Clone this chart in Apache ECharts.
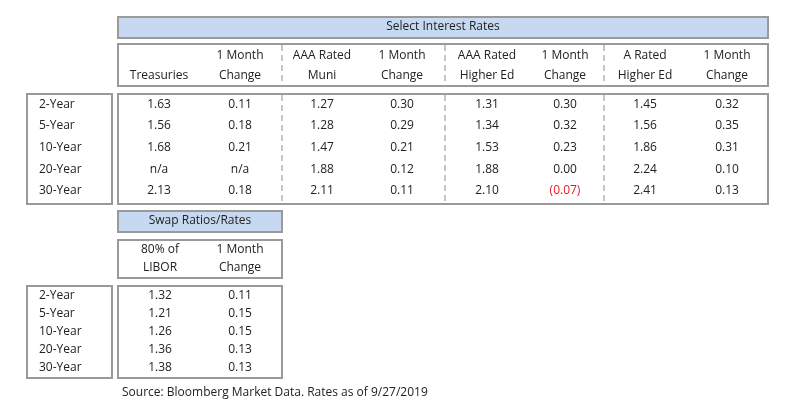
<!DOCTYPE html>
<html>
<head>
<meta charset="utf-8">
<script src="https://cdn.jsdelivr.net/npm/echarts@6/dist/echarts.min.js"></script>
<style>html,body{margin:0;background:#fff}#main{width:786px;height:410px}</style>
</head>
<body>
<div id="main"></div>
<script>
// data
var tenors = ['2-Year', '5-Year', '10-Year', '20-Year', '30-Year'];
var treasuries = [1.63, 1.56, 1.68, null, 2.13];
var treasuriesChg = [0.11, 0.18, 0.21, null, 0.18];
var aaaMuni = [1.27, 1.28, 1.47, 1.88, 2.11];
var aaaMuniChg = [0.30, 0.29, 0.21, 0.12, 0.11];
var aaaHigherEd = [1.31, 1.34, 1.53, 1.88, 2.10];
var aaaHigherEdChg = [0.30, 0.32, 0.23, 0.00, -0.07];
var aHigherEd = [1.45, 1.56, 1.86, 2.24, 2.41];
var aHigherEdChg = [0.32, 0.35, 0.31, 0.10, 0.13];
var libor80 = [1.32, 1.21, 1.26, 1.36, 1.38];
var liborChg = [0.11, 0.15, 0.15, 0.13, 0.13];
var topHeaders = [['', 'Treasuries'], ['1 Month', 'Change'], ['AAA Rated', 'Muni'], ['1 Month', 'Change'],
    ['AAA Rated', 'Higher Ed'], ['1 Month', 'Change'], ['A Rated', 'Higher Ed'], ['1 Month', 'Change']];
var swapHeaders = [['80% of', 'LIBOR'], ['1 Month', 'Change']];

// layout
var topCols = [159, 240, 322, 402, 487, 565, 645, 727];
var topRowY = [105, 126, 148, 170, 191];
var swapCols = [160, 240];
var swapRowY = [296, 314, 332, 350, 368];
var FONT = '"Open Sans", sans-serif';
var INK = '#222';

function fmt(v) {
    if (v === null) return 'n/a';
    if (v < 0) return '(' + Math.abs(v).toFixed(2) + ')';
    return v.toFixed(2);
}

var cells = [];
var topSeries = [treasuries, treasuriesChg, aaaMuni, aaaMuniChg, aaaHigherEd, aaaHigherEdChg, aHigherEd, aHigherEdChg];
topSeries.forEach(function (arr, c) {
    arr.forEach(function (v, r) {
        cells.push([topCols[c], topRowY[r], fmt(v), v !== null && v < 0 ? '#e8182a' : INK, 'center']);
    });
    cells.push([topCols[c], 56, topHeaders[c][0], INK, 'center']);
    cells.push([topCols[c], 76, topHeaders[c][1], INK, 'center']);
});
[libor80, liborChg].forEach(function (arr, c) {
    arr.forEach(function (v, r) {
        cells.push([swapCols[c], swapRowY[r], fmt(v), INK, 'center']);
    });
    cells.push([swapCols[c], 250, swapHeaders[c][0], INK, 'center']);
    cells.push([swapCols[c], 268, swapHeaders[c][1], INK, 'center']);
});
tenors.forEach(function (t, r) {
    cells.push([39, topRowY[r], t, INK, 'left']);
    cells.push([39, swapRowY[r], t, INK, 'left']);
});
cells.push([443, 27, 'Select Interest Rates', INK, 'center']);
cells.push([200, 221, 'Swap Ratios/Rates', INK, 'center']);
cells.push([122, 393, 'Source: Bloomberg Market Data. Rates as of 9/27/2019', INK, 'left']);

var myChart = echarts.init(document.getElementById('main'));
function rect(x, y, w, h, fill) {
    return { type: 'rect', shape: { x: x, y: y, width: w, height: h }, style: { stroke: '#9a9a9a', lineWidth: 2, fill: fill || 'none' }, silent: true };
}
function dash(x, y1, y2) {
    return { type: 'line', shape: { x1: x, y1: y1, x2: x, y2: y2 }, style: { stroke: '#a0a0a0', lineWidth: 1.2, lineDash: [6, 4] }, silent: true };
}

var option = {
    animation: false,
    grid: { left: 0, right: 0, top: 0, bottom: 0 },
    xAxis: { type: 'value', min: 0, max: 786, show: false },
    yAxis: { type: 'value', min: 0, max: 410, inverse: true, show: false },
    graphic: [
        rect(118, 17, 650, 21, '#c6d9f1'),
        rect(118, 44, 650, 42),
        rect(118, 94, 650, 110),
        rect(27, 94, 85, 110),
        dash(282, 45, 85), dash(445, 45, 85), dash(604, 45, 85),
        dash(282, 95, 203), dash(445, 95, 203), dash(604, 95, 203),
        rect(118, 211, 164, 21, '#c6d9f1'),
        rect(118, 240, 164, 38),
        rect(118, 286, 164, 92),
        rect(27, 286, 85, 92)
    ],
    series: [{
        type: 'custom',
        data: cells,
        z: 10,
        renderItem: function (params, api) {
            var d = cells[params.dataIndex];
            var p = api.coord([api.value(0), api.value(1)]);
            return {
                type: 'text',
                x: p[0], y: p[1],
                style: { text: d[2], fill: d[3], align: d[4], verticalAlign: 'middle', font: '12px ' + FONT }
            };
        }
    }]
};
myChart.setOption(option);
window.addEventListener('resize', function () {
    myChart.resize();
});
</script>
</body>
</html>
